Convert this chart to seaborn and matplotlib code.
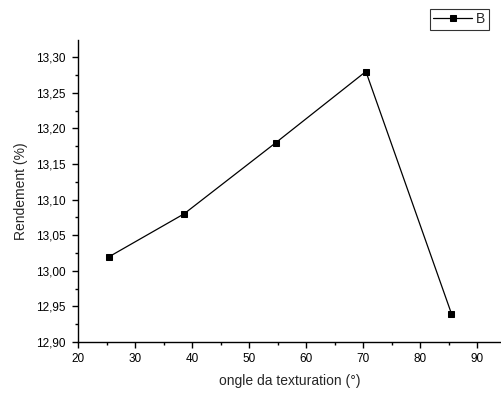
import matplotlib
matplotlib.use("Agg")
import matplotlib.pyplot as plt
from matplotlib.ticker import MultipleLocator, FuncFormatter
import seaborn as sns
import pandas as pd

angle = [25.5, 38.6, 54.7, 70.5, 85.5]
rendement = [13.02, 13.08, 13.18, 13.28, 12.94]
series_name = "B"

sns.set_style("ticks")
plt.rcParams['font.family'] = ['Liberation Sans', 'DejaVu Sans']

df = pd.DataFrame({"angle": angle, "rendement": rendement, "serie": series_name})

fig = plt.figure(figsize=(5.01, 3.94), dpi=100)
ax = fig.add_axes([0.1557, 0.132, 0.8443, 0.766])
sns.lineplot(data=df, x="angle", y="rendement", ax=ax, color="black",
             marker="s", markersize=5, linewidth=0.9, markeredgecolor="black",
             label=series_name, legend=False)

ax.set_xlim(20, 94.2)
ax.set_ylim(12.90, 13.324)
ax.xaxis.set_major_locator(MultipleLocator(10))
ax.xaxis.set_minor_locator(MultipleLocator(5))
ax.yaxis.set_major_locator(MultipleLocator(0.05))
ax.yaxis.set_minor_locator(MultipleLocator(0.025))
ax.yaxis.set_major_formatter(FuncFormatter(lambda v, p: f"{v:.2f}".replace(".", ",")))
ax.xaxis.set_major_formatter(FuncFormatter(lambda v, p: f"{v:.0f}"))
for s in ["top", "right"]:
    ax.spines[s].set_visible(False)
for s in ["left", "bottom"]:
    ax.spines[s].set_linewidth(1.0)
    ax.spines[s].set_color("black")
ax.tick_params(which="major", direction="out", length=4, width=1, labelsize=8.5, colors="black")
ax.tick_params(which="minor", direction="out", length=2.5, width=1, colors="black")
ax.tick_params(axis="y", which="major", pad=5)
ax.tick_params(axis="x", which="major", pad=4)
ax.set_xlabel("ongle da texturation (°)", fontsize=10, labelpad=6.5)
ax.set_ylabel("Rendement (%)", fontsize=10, labelpad=5.5)

handles, labels = ax.get_legend_handles_labels()
leg = fig.legend(handles, labels, loc="upper right", bbox_to_anchor=(0.976, 0.978),
                 fontsize=10, frameon=True, fancybox=False, borderpad=0.25,
                 handlelength=2.8, handletextpad=0.3, borderaxespad=0)
leg.get_frame().set_edgecolor("black")
leg.get_frame().set_linewidth(0.8)

fig.savefig("out.png", dpi=100)
